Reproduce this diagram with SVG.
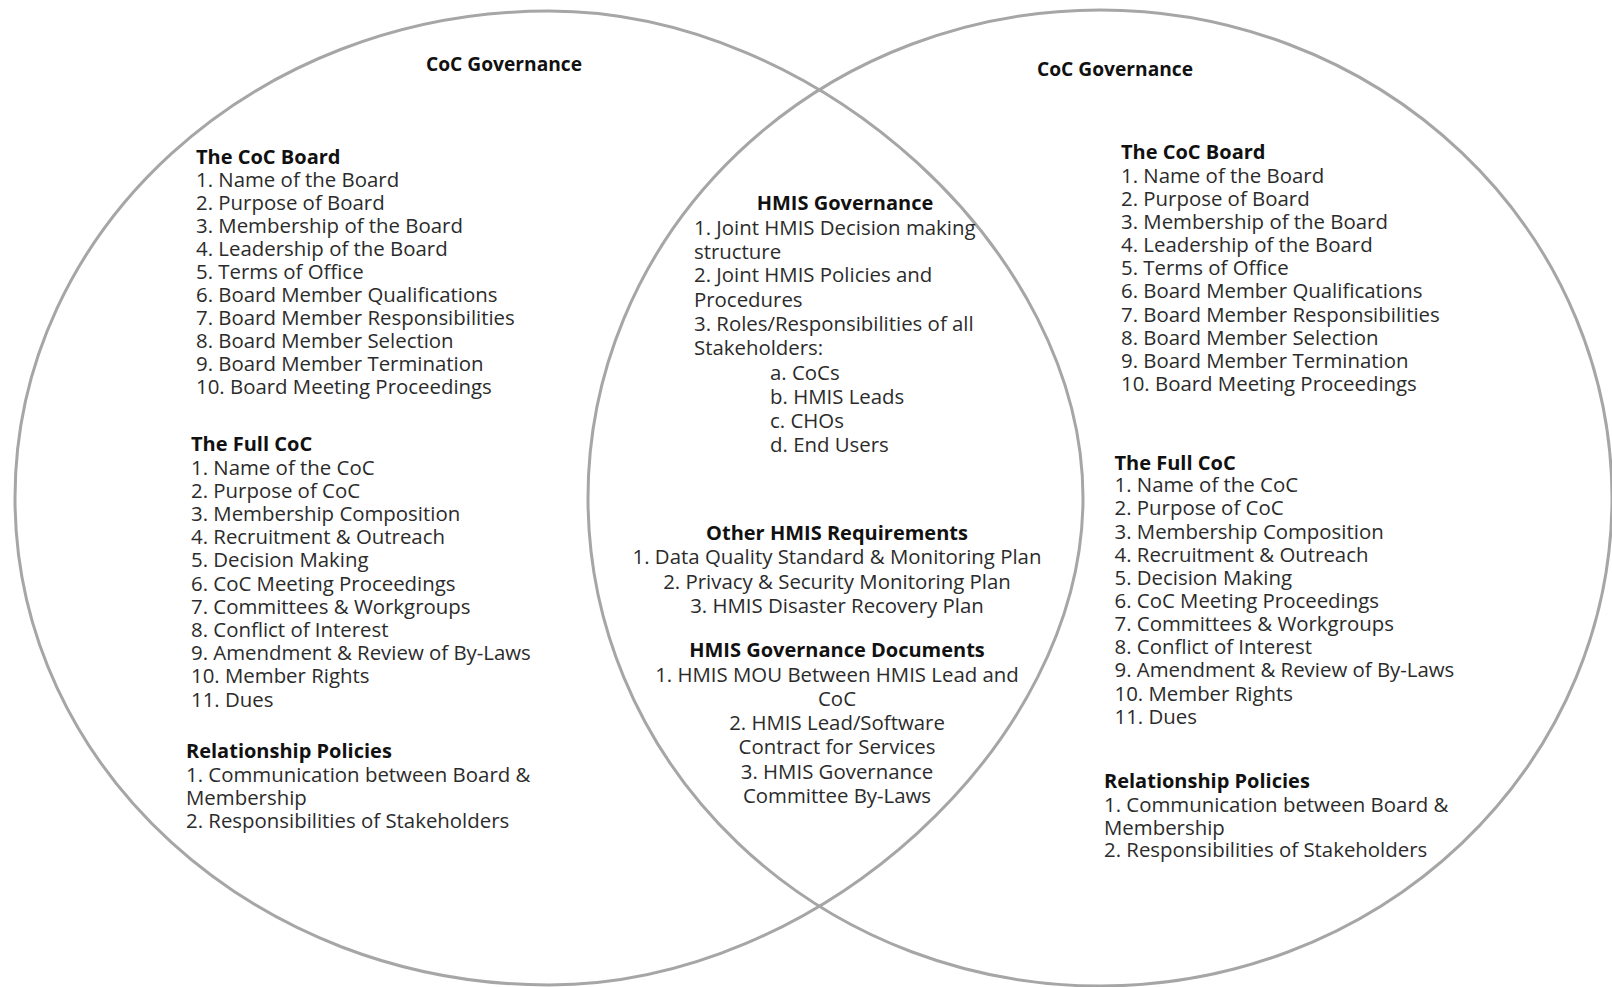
<svg xmlns="http://www.w3.org/2000/svg" width="1612" height="987" viewBox="0 0 1612 987">
<style>
.ring{fill:none;stroke:#a6a6a6;stroke-width:3}
text{font-family:"Open Sans","DejaVu Sans",sans-serif;font-size:20.4px;fill:#2b2b2b}
.h{font-weight:bold;fill:#111;font-size:20px}
.t{font-weight:bold;fill:#111;font-size:19.2px}
.c{text-anchor:middle}
</style>
<rect width="1612" height="987" fill="#ffffff"/>
<g id="left-set">
<path class="ring" d="M549 11 C818.1 11 1083 252.6 1083 498 C1083 743.4 818.1 985 549 985 C254.1 985 15 767 15 498 C15 229 254.1 11 549 11 Z"/>
<text class="t" x="426" y="71">CoC Governance</text>
<text class="h" x="196" y="164">The CoC Board</text>
<text x="196" y="187">1. Name of the Board</text>
<text x="196" y="210">2. Purpose of Board</text>
<text x="196" y="233">3. Membership of the Board</text>
<text x="196" y="256">4. Leadership of the Board</text>
<text x="196" y="279">5. Terms of Office</text>
<text x="196" y="302">6. Board Member Qualifications</text>
<text x="196" y="325">7. Board Member Responsibilities</text>
<text x="196" y="348">8. Board Member Selection</text>
<text x="196" y="371">9. Board Member Termination</text>
<text x="196" y="394">10. Board Meeting Proceedings</text>
<text class="h" x="191" y="451">The Full CoC</text>
<text x="191" y="475">1. Name of the CoC</text>
<text x="191" y="498">2. Purpose of CoC</text>
<text x="191" y="521">3. Membership Composition</text>
<text x="191" y="544">4. Recruitment &amp; Outreach</text>
<text x="191" y="567">5. Decision Making</text>
<text x="191" y="590.5">6. CoC Meeting Proceedings</text>
<text x="191" y="613.5">7. Committees &amp; Workgroups</text>
<text x="191" y="636.5">8. Conflict of Interest</text>
<text x="191" y="659.5">9. Amendment &amp; Review of By-Laws</text>
<text x="191" y="683">10. Member Rights</text>
<text x="191" y="706.5">11. Dues</text>
<text class="h" x="186" y="758">Relationship Policies</text>
<text x="186" y="781.5">1. Communication between Board &amp;</text>
<text x="186" y="804.5">Membership</text>
<text x="186" y="827.5">2. Responsibilities of Stakeholders</text>
</g>
<g id="right-set">
<ellipse class="ring" cx="1100" cy="498" rx="512" ry="488"/>
<text class="t" x="1037" y="76">CoC Governance</text>
<text class="h" x="1121" y="158.5">The CoC Board</text>
<text x="1121" y="183">1. Name of the Board</text>
<text x="1121" y="206">2. Purpose of Board</text>
<text x="1121" y="229">3. Membership of the Board</text>
<text x="1121" y="252">4. Leadership of the Board</text>
<text x="1121" y="275">5. Terms of Office</text>
<text x="1121" y="298">6. Board Member Qualifications</text>
<text x="1121" y="321.5">7. Board Member Responsibilities</text>
<text x="1121" y="344.5">8. Board Member Selection</text>
<text x="1121" y="367.5">9. Board Member Termination</text>
<text x="1121" y="390.5">10. Board Meeting Proceedings</text>
<text class="h" x="1114.5" y="469.5">The Full CoC</text>
<text x="1114.5" y="492">1. Name of the CoC</text>
<text x="1114.5" y="515">2. Purpose of CoC</text>
<text x="1114.5" y="538.5">3. Membership Composition</text>
<text x="1114.5" y="561.5">4. Recruitment &amp; Outreach</text>
<text x="1114.5" y="585">5. Decision Making</text>
<text x="1114.5" y="608">6. CoC Meeting Proceedings</text>
<text x="1114.5" y="631">7. Committees &amp; Workgroups</text>
<text x="1114.5" y="654">8. Conflict of Interest</text>
<text x="1114.5" y="677">9. Amendment &amp; Review of By-Laws</text>
<text x="1114.5" y="701">10. Member Rights</text>
<text x="1114.5" y="724">11. Dues</text>
<text class="h" x="1104" y="788">Relationship Policies</text>
<text x="1104" y="811.5">1. Communication between Board &amp;</text>
<text x="1104" y="834.5">Membership</text>
<text x="1104" y="857">2. Responsibilities of Stakeholders</text>
</g>
<g id="overlap">
<text class="h c" x="845" y="210">HMIS Governance</text>
<text x="694" y="235">1. Joint HMIS Decision making</text>
<text x="694" y="258.5">structure</text>
<text x="694" y="282">2. Joint HMIS Policies and</text>
<text x="694" y="306.5">Procedures</text>
<text x="694" y="331">3. Roles/Responsibilities of all</text>
<text x="694" y="355">Stakeholders:</text>
<text x="770" y="379.5">a. CoCs</text>
<text x="770" y="403.5">b. HMIS Leads</text>
<text x="770" y="427.5">c. CHOs</text>
<text x="770" y="451.5">d. End Users</text>
<text class="h c" x="837" y="540">Other HMIS Requirements</text>
<text class="c" x="837" y="564">1. Data Quality Standard &amp; Monitoring Plan</text>
<text class="c" x="837" y="588.5">2. Privacy &amp; Security Monitoring Plan</text>
<text class="c" x="837" y="612.5">3. HMIS Disaster Recovery Plan</text>
<text class="h c" x="837" y="656.5">HMIS Governance Documents</text>
<text class="c" x="837" y="681.5">1. HMIS MOU Between HMIS Lead and</text>
<text class="c" x="837" y="706">CoC</text>
<text class="c" x="837" y="730">2. HMIS Lead/Software</text>
<text class="c" x="837" y="754">Contract for Services</text>
<text class="c" x="837" y="778.5">3. HMIS Governance</text>
<text class="c" x="837" y="802.5">Committee By-Laws</text>
</g>
</svg>
